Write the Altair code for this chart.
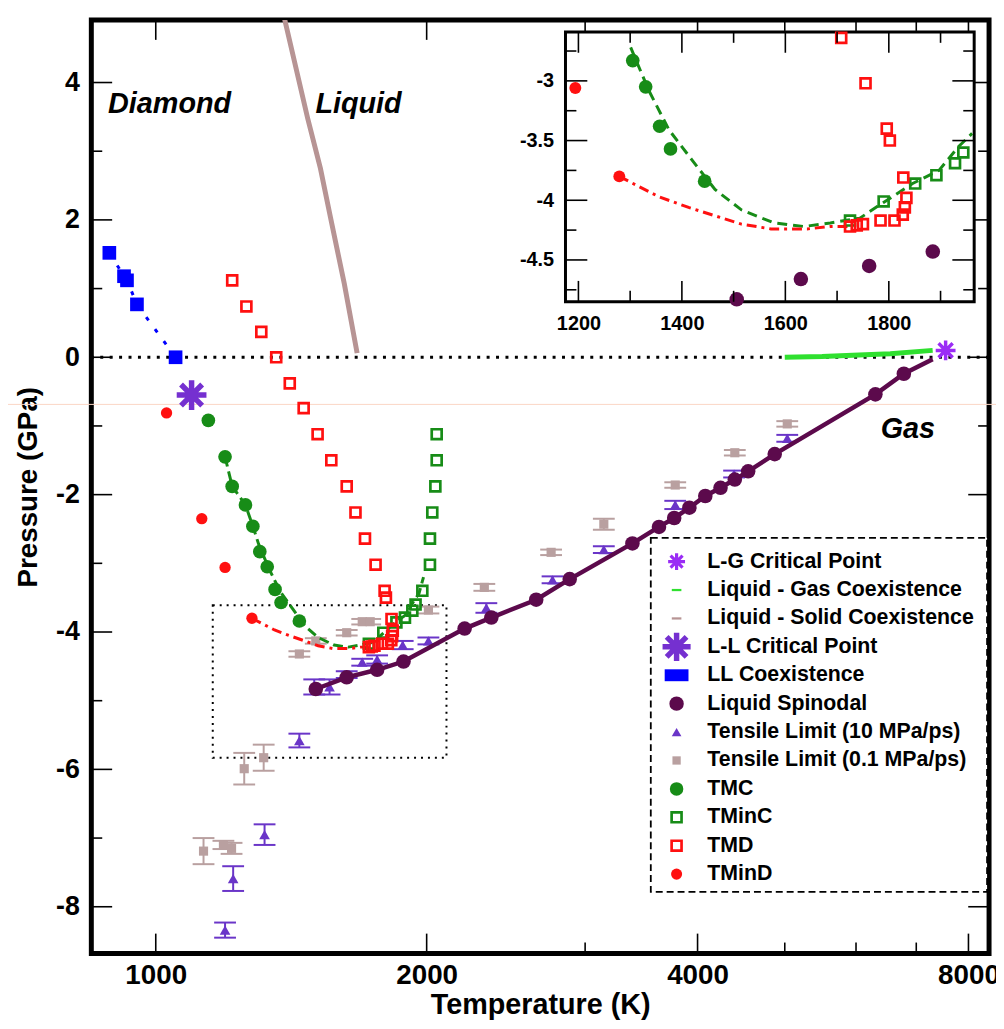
import altair as alt
import pandas as pd

# ---------------- data (T in K, P in GPa) ----------------
# Liquid-solid coexistence line
LS_T = [1389, 1475, 1524, 1564, 1620, 1674]
LS_P = [4.95, 3.48, 2.75, 2.03, 1.07, 0.06]
# Liquid-gas coexistence line
LG_T = [5000, 5500, 5950, 6550, 7300]
LG_P = [0.00, 0.01, 0.03, 0.05, 0.10]
# critical points
LGC_T = [7546]
LGC_P = [0.10]
LLC_T = [1096]
LLC_P = [-0.55]
# LL coexistence
LL_T = [888, 922, 929, 953, 1052]
LL_P = [1.52, 1.18, 1.12, 0.77, 0.00]
# Liquid spinodal
SP_T = [1506, 1630, 1762, 1885, 2204, 2360, 2647, 2884, 3386, 3624, 3768, 3917,
        4080, 4242, 4400, 4553, 4873, 6305, 6781]
SP_P = [-4.83, -4.66, -4.55, -4.43, -3.95, -3.79, -3.53, -3.23, -2.71, -2.47, -2.34, -2.19,
        -2.02, -1.90, -1.78, -1.66, -1.41, -0.54, -0.24]
SP_END_T = [7300]
SP_END_P = [-0.03]
# Tensile limit 10 MPa/ps
T10_T = [1194, 1219, 1321, 1444, 1500, 1560, 1630, 1696, 1762, 1881, 2009, 2330, 2760, 3147, 3778, 4392, 5032]
T10_P = [-8.34, -7.59, -6.95, -5.58, -4.80, -4.80, -4.62, -4.44, -4.40, -4.19, -4.13, -3.65, -3.24, -2.80, -2.15, -1.70, -1.18]
T10_E = [0.11, 0.18, 0.15, 0.10, 0.11, 0.11, 0.05, 0.05, 0.06, 0.06, 0.05, 0.07, 0.05, 0.05, 0.06, 0.05, 0.05]
# Tensile limit 0.1 MPa/ps
T01_T = [1130, 1189, 1214, 1254, 1318, 1444, 1506, 1630, 1696, 1731, 2009, 2318, 2750, 3147, 3778, 4400, 5032]
T01_P = [-7.19, -7.10, -7.15, -5.99, -5.83, -4.32, -4.13, -4.01, -3.85, -3.85, -3.68, -3.35, -2.84, -2.43, -1.86, -1.39, -0.97]
T01_E = [0.19, 0.06, 0.08, 0.23, 0.19, 0.04, 0.04, 0.04, 0.04, 0.04, 0.05, 0.05, 0.04, 0.08, 0.04, 0.04, 0.04]
# TMC
TMC_T = [1144, 1194, 1216, 1258, 1282, 1305, 1330, 1357, 1378, 1444]
TMC_P = [-0.92, -1.45, -1.88, -2.15, -2.46, -2.83, -3.05, -3.38, -3.57, -3.84]
# TMC / TMinC fit (dashed green)
GF_T = [1194, 1216, 1258, 1282, 1301, 1336, 1375, 1419, 1464, 1515, 1578, 1636, 1687,
        1744, 1789, 1846, 1897, 1935, 1961, 1984]
GF_P = [-1.45, -1.88, -2.15, -2.46, -2.72, -3.08, -3.41, -3.66, -3.91, -4.08, -4.19, -4.22, -4.19,
        -4.15, -4.02, -3.86, -3.75, -3.55, -3.44, -3.20]
# TMinC
TMINC_T = [1725, 1790, 1851, 1892, 1928, 1944, 1978, 2017, 2017, 2029, 2045, 2052, 2052]
TMINC_P = [-4.17, -4.01, -3.86, -3.79, -3.69, -3.60, -3.40, -3.02, -2.64, -2.26, -1.88, -1.50, -1.12]
# TMD
TMD_T = [1216, 1261, 1310, 1361, 1409, 1460, 1513, 1567, 1630, 1667, 1708, 1755, 1796, 1802,
         1828, 1834, 1831, 1827, 1811, 1784, 1750, 1738, 1725]
TMD_P = [1.12, 0.74, 0.37, 0.00, -0.38, -0.74, -1.12, -1.50, -1.88, -2.26, -2.64, -3.02, -3.40, -3.50,
         -3.81, -3.98, -4.06, -4.12, -4.17, -4.17, -4.20, -4.21, -4.22]
# TMinD
TMIND_T = [1028, 1125, 1194, 1279]
TMIND_P = [-0.81, -2.35, -3.06, -3.80]
# TMinD fit (dash-dot red)
RF_T = [1279, 1355, 1413, 1464, 1515, 1572, 1642, 1687, 1725]
RF_P = [-3.80, -3.97, -4.06, -4.13, -4.20, -4.24, -4.24, -4.22, -4.22]
# zero-pressure reference line
ZERO_P = [0.0]
# zoom box drawn in the main panel
ZB_T = [1157, 2104]
ZB_P = [-3.61, -5.83]
# region labels
REG_LABELS = ["Diamond", "Liquid", "Gas"]
REG_T = [1036, 1680, 6850]
REG_P = [3.55, 3.55, -1.17]
# axis ticks
MX_MAJ = [1000, 2000, 4000, 8000]
MX_MIN = [3000, 5000, 6000, 7000]
MY_MAJ = [4, 2, 0, -2, -4, -6, -8]
MY_MIN = [3, 1, -1, -3, -5, -7]
IX_MAJ = [1200, 1400, 1600, 1800]
IX_MIN = [1300, 1500, 1700, 1900]
IY_MAJ = [-3, -3.5, -4, -4.5]
IY_MIN = [-2.75, -3.25, -3.75, -4.25, -4.75]
# legend labels
LEG_LABELS = ["L-G Critical Point", "Liquid - Gas Coexistence", "Liquid - Solid Coexistence",
              "L-L Critical Point", "LL Coexistence", "Liquid Spinodal",
              "Tensile Limit (10 MPa/ps)", "Tensile Limit (0.1 MPa/ps)",
              "TMC", "TMinC", "TMD", "TMinD"]

# ---------------- styling ----------------
W, H = 905, 941
FONT = "Liberation Sans"
C_LG = "#9a2cf5"
C_LL = "#7530d0"
C_LGL = "#2fe02f"
C_LS = "#b79494"
C_BR = "#b9a0a0"
C_BLUE = "#0000ff"
C_SP = "#5c0a4c"
C_TRI = "#6a35c8"
C_GR = "#178c17"
C_RED = "#ff1010"
ASTER = "M-1,0L1,0M0,-1L0,1M-0.71,-0.71L0.71,0.71M-0.71,0.71L0.71,-0.71"
DASH = "M-0.6,-0.14L0.6,-0.14L0.6,0.14L-0.6,0.14Z"
WRECT = "M-1,-0.5L1,-0.5L1,0.5L-1,0.5Z"

xs = alt.Scale(type="log", domain=[848, 8433], nice=False)
ys = alt.Scale(domain=[-8.68, 4.91], nice=False, zero=False)
XAX = alt.Axis(values=MX_MAJ, labelExpr="'' + datum.value", ticks=False, tickSize=0, domain=False,
               grid=False, labelFont=FONT, labelFontSize=28, labelFontWeight="bold", labelColor="black",
               labelPadding=8, labelFlush=False, labelOverlap=False,
               title="Temperature (K)", titleFont=FONT, titleFontSize=29, titleFontWeight="bold",
               titleColor="black", titleX=W / 2, titleY=61, titleAlign="center", titleBaseline="alphabetic")
YAX = alt.Axis(values=MY_MAJ, labelExpr="'' + datum.value", ticks=False, tickSize=0, domain=False,
               grid=False, labelFont=FONT, labelFontSize=27, labelFontWeight="bold", labelColor="black",
               labelPadding=12, labelOverlap=False,
               title="Pressure (GPa)", titleFont=FONT, titleFontSize=28, titleFontWeight="bold",
               titleColor="black", titleX=-55, titleY=H / 2, titleAngle=270, titleAlign="center",
               titleBaseline="alphabetic")

IX0, IX1, IY0, IY1 = 478, 890, 12, 284
ixs = alt.Scale(domain=[1175, 1965], range=[IX0, IX1], nice=False, zero=False)
iys = alt.Scale(domain=[-4.85, -2.59], range=[IY1, IY0], nice=False, zero=False)
IXAX = alt.Axis(orient="bottom", offset=IY1 - H, values=IX_MAJ, labelExpr="'' + datum.value",
                ticks=False, tickSize=0, domain=False, grid=False, labelFont=FONT, labelFontSize=20,
                labelFontWeight="bold", labelColor="black", labelPadding=12, labelFlush=False,
                labelOverlap=False, title=None)
IYAX = alt.Axis(orient="left", offset=-IX0, values=IY_MAJ, labelExpr="'' + datum.value",
                ticks=False, tickSize=0, domain=False, grid=False, labelFont=FONT, labelFontSize=20,
                labelFontWeight="bold", labelColor="black", labelPadding=12, labelOverlap=False, title=None)


def df(**cols):
    return pd.DataFrame(cols)


def mx(f):
    return alt.X(f, type="quantitative", scale=xs, axis=XAX)


def my(f):
    return alt.Y(f, type="quantitative", scale=ys, axis=YAX)


def ix(f):
    return alt.X(f, type="quantitative", scale=ixs, axis=IXAX)


def iy(f):
    return alt.Y(f, type="quantitative", scale=iys, axis=IYAX)


def pts(T, P, X, Y, **mk):
    mk.setdefault("opacity", 1)
    return alt.Chart(df(T=T, P=P)).mark_point(**mk).encode(x=X("T"), y=Y("P"))


def line(T, P, X, Y, **mk):
    return alt.Chart(df(T=T, P=P)).mark_line(**mk).encode(x=X("T"), y=Y("P"))


def errbars(T, P, E, color):
    base = alt.Chart(df(T=T, P=P, E=E)).transform_calculate(lo="datum.P - datum.E", hi="datum.P + datum.E")
    bar = base.mark_rule(color=color, strokeWidth=2).encode(x=mx("T"), y=my("lo:Q"), y2=alt.Y2("hi:Q"))
    c1 = base.mark_tick(color=color, orient="horizontal", size=22, thickness=2, opacity=1).encode(
        x=mx("T"), y=my("lo:Q"))
    c2 = base.mark_tick(color=color, orient="horizontal", size=22, thickness=2, opacity=1).encode(
        x=mx("T"), y=my("hi:Q"))
    return [bar, c1, c2]


def xticks(vals, X, y0, y1):
    return alt.Chart(df(v=vals)).mark_rule(color="black", strokeWidth=1.6).encode(
        x=X("v"), y=alt.value(y0), y2=alt.value(y1))


def yticks(vals, Y, x0, x1):
    return alt.Chart(df(v=vals)).mark_rule(color="black", strokeWidth=1.6).encode(
        y=Y("v"), x=alt.value(x0), x2=alt.value(x1))


one = df(a=[0])

# ---------------- main panel ----------------
main_layers = [
    alt.Chart(one).mark_rule(color="#fbd6c4", strokeWidth=1).encode(
        x=alt.value(-92), x2=alt.value(912), y=alt.value(387.5)),
    alt.Chart(df(P=ZERO_P)).mark_rule(color="black", strokeWidth=3, strokeDash=[3, 6.5]).encode(y=my("P")),
    line(LS_T, LS_P, mx, my, color=C_LS, strokeWidth=5, clip=True),
    line(LG_T, LG_P, mx, my, color=C_LGL, strokeWidth=5),
    line(LL_T, LL_P, mx, my, color=C_BLUE, strokeWidth=3, strokeDash=[4, 11]),
    pts(LL_T, LL_P, mx, my, shape="square", filled=True, size=190, color=C_BLUE),
    alt.Chart(df(T0=[ZB_T[0]], T1=[ZB_T[1]], P0=[ZB_P[0]], P1=[ZB_P[1]])).mark_rect(
        fillOpacity=0, stroke="black", strokeWidth=2, strokeDash=[2, 5]).encode(
        x=mx("T0"), x2=alt.X2("T1"), y=my("P0"), y2=alt.Y2("P1")),
]
main_layers += errbars(T01_T, T01_P, T01_E, C_BR)
main_layers.append(pts(T01_T, T01_P, mx, my, shape="square", filled=True, size=85, color=C_BR))
main_layers += errbars(T10_T, T10_P, T10_E, C_TRI)
main_layers.append(pts(T10_T, T10_P, mx, my, shape="triangle-up", filled=True, size=115, color=C_TRI))
main_layers += [
    line(SP_T + SP_END_T, SP_P + SP_END_P, mx, my, color=C_SP, strokeWidth=4.5),
    pts(SP_T, SP_P, mx, my, shape="circle", filled=True, size=215, color=C_SP),
    line(GF_T, GF_P, mx, my, color=C_GR, strokeWidth=3, strokeDash=[10, 5]),
    line(RF_T, RF_P, mx, my, color=C_RED, strokeWidth=3, strokeDash=[10, 5, 3, 5]),
    pts(TMC_T, TMC_P, mx, my, shape="circle", filled=True, size=190, color=C_GR),
    pts(TMINC_T, TMINC_P, mx, my, shape="square", filled=False, size=100, strokeWidth=2.7, color=C_GR),
    pts(TMD_T, TMD_P, mx, my, shape="square", filled=False, size=100, strokeWidth=2.7, color=C_RED),
    pts(TMIND_T, TMIND_P, mx, my, shape="circle", filled=True, size=130, color=C_RED),
    pts(LLC_T, LLC_P, mx, my, shape=ASTER, filled=False, size=900, strokeWidth=5.5, color=C_LL),
    pts(LGC_T, LGC_P, mx, my, shape=ASTER, filled=False, size=400, strokeWidth=3.5, color=C_LG),
    alt.Chart(df(label=REG_LABELS, T=REG_T, P=REG_P)).mark_text(
        font=FONT, fontSize=29, fontWeight="bold", fontStyle="italic", align="center",
        baseline="alphabetic", color="black").encode(x=mx("T"), y=my("P"), text="label:N"),
    xticks(MX_MAJ, mx, H, H - 20), xticks(MX_MIN, mx, H, H - 11),
    xticks(MX_MAJ, mx, 0, 20), xticks(MX_MIN, mx, 0, 11),
    yticks(MY_MAJ, my, 0, 21), yticks(MY_MIN, my, 0, 11),
    yticks(MY_MAJ, my, W, W - 21), yticks(MY_MIN, my, W, W - 11),
]
main = alt.layer(*main_layers)

# ---------------- inset ----------------
FILT = "datum.T >= 1175 && datum.T <= 1965 && datum.P >= -4.85 && datum.P <= -2.59"


def ipts(T, P, **mk):
    mk.setdefault("opacity", 1)
    return alt.Chart(df(T=T, P=P)).transform_filter(FILT).mark_point(**mk).encode(x=ix("T"), y=iy("P"))


def iline(T, P, **mk):
    return alt.Chart(df(T=T, P=P)).transform_filter(FILT).mark_line(**mk).encode(x=ix("T"), y=iy("P"))


inset = alt.layer(
    alt.Chart(df(T0=[1175], T1=[1965], P0=[-4.85], P1=[-2.59])).mark_rect(
        fill="white", stroke="black", strokeWidth=3).encode(
        x=ix("T0"), x2=alt.X2("T1"), y=iy("P0"), y2=alt.Y2("P1")),
    iline(GF_T, GF_P, color=C_GR, strokeWidth=3, strokeDash=[10, 6]),
    iline(RF_T, RF_P, color=C_RED, strokeWidth=3, strokeDash=[10, 5, 3, 5]),
    ipts(SP_T, SP_P, shape="circle", filled=True, size=215, color=C_SP),
    ipts(TMC_T, TMC_P, shape="circle", filled=True, size=190, color=C_GR),
    ipts(TMINC_T, TMINC_P, shape="square", filled=False, size=100, strokeWidth=2.7, color=C_GR),
    ipts(TMD_T, TMD_P, shape="square", filled=False, size=100, strokeWidth=2.7, color=C_RED),
    ipts(TMIND_T, TMIND_P, shape="circle", filled=True, size=145, color=C_RED),
    xticks(IX_MAJ, ix, IY1, IY1 - 21), xticks(IX_MIN, ix, IY1, IY1 - 11),
    xticks(IX_MAJ, ix, IY0, IY0 + 21), xticks(IX_MIN, ix, IY0, IY0 + 11),
    yticks(IY_MAJ, iy, IX0, IX0 + 22), yticks(IY_MIN, iy, IX0, IX0 + 11),
    yticks(IY_MAJ, iy, IX1, IX1 - 22), yticks(IY_MIN, iy, IX1, IX1 - 11),
)

# ---------------- legend ----------------
leg = df(
    row=list(range(len(LEG_LABELS))),
    label=LEG_LABELS,
    shape=[ASTER, DASH, DASH, ASTER, WRECT, "circle", "triangle-up", "square", "circle", "square", "square", "circle"],
    fill=["transparent", C_LGL, C_LS, "transparent", C_BLUE, C_SP, C_TRI, C_BR, C_GR, "transparent",
          "transparent", C_RED],
    stroke=[C_LG, "transparent", "transparent", C_LL, "transparent", "transparent", "transparent",
            "transparent", "transparent", C_GR, C_RED, "transparent"],
    size=[290, 260, 260, 800, 576, 210, 95, 70, 185, 100, 100, 125],
    sw=[3.2, 0, 0, 5.5, 0, 0, 0, 0, 0, 2.7, 2.7, 0],
)
lys = alt.Scale(domain=[0, 11], range=[546, 861], nice=False, zero=False)
legend = alt.layer(
    alt.Chart(one).mark_rect(fill="white", stroke="black", strokeWidth=1.8, strokeDash=[7, 4]).encode(
        x=alt.value(564), x2=alt.value(903), y=alt.value(522), y2=alt.value(879)),
    alt.Chart(leg).mark_point(opacity=1).encode(
        x=alt.value(590), y=alt.Y("row:Q", scale=lys, axis=None),
        shape=alt.Shape("shape:N", scale=None), fill=alt.Fill("fill:N", scale=None),
        stroke=alt.Stroke("stroke:N", scale=None), size=alt.Size("size:Q", scale=None),
        strokeWidth=alt.StrokeWidth("sw:Q", scale=None)),
    alt.Chart(leg).mark_text(align="left", baseline="middle", font=FONT, fontSize=21.5, fontWeight="bold",
                             color="black").encode(
        x=alt.value(621), y=alt.Y("row:Q", scale=lys, axis=None), text="label:N"),
)

chart = alt.layer(main, inset, legend).resolve_scale(x="independent", y="independent").properties(
    width=W, height=H,
    padding={"left": 84, "top": 8, "right": 7, "bottom": 67},
    autosize=alt.AutoSizeParams(type="none"),
    background="white",
).configure_view(stroke="black", strokeWidth=5)

chart.save("out.html", embed_options={"renderer": "svg", "actions": False})
